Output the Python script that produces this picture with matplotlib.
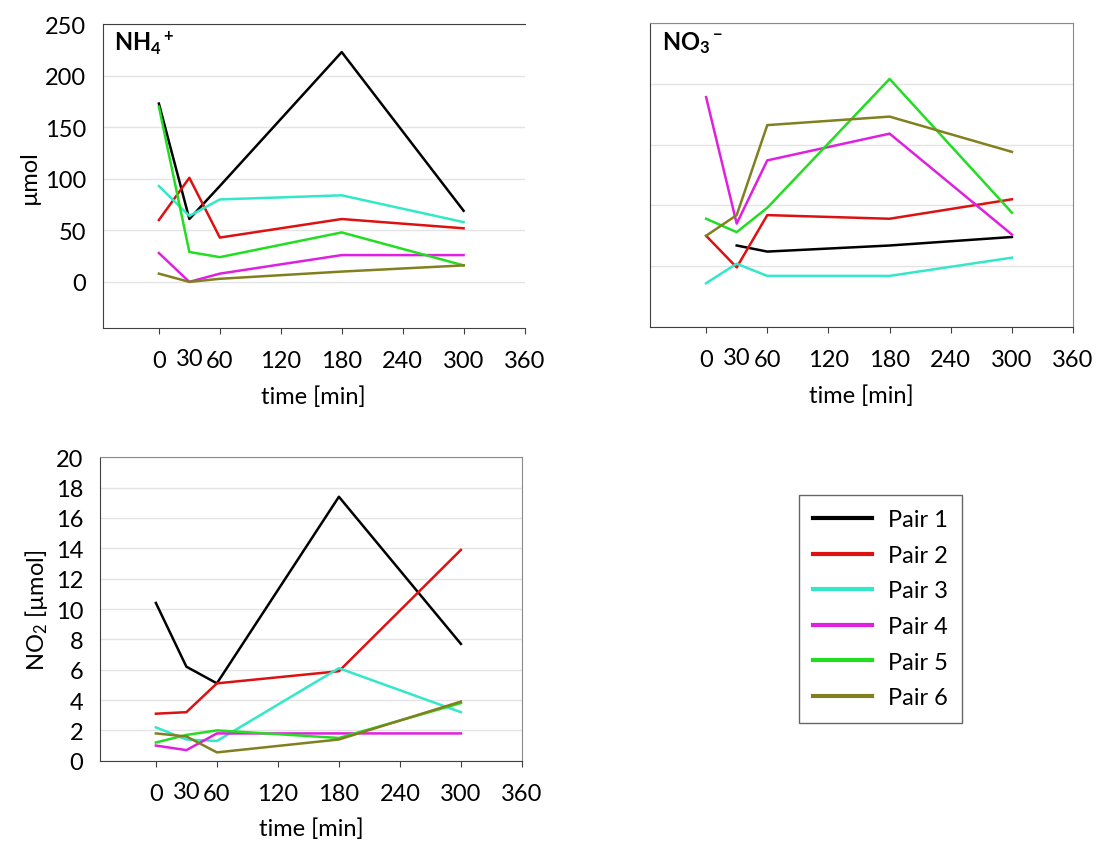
import matplotlib
matplotlib.use('Agg')
import matplotlib.pyplot as plt
import numpy as np

plt.rcParams['font.family'] = ['Lato', 'DejaVu Sans']
plt.rcParams['mathtext.fontset'] = 'custom'
plt.rcParams['mathtext.rm'] = 'Lato'
plt.rcParams['mathtext.it'] = 'Lato:italic'
plt.rcParams['mathtext.bf'] = 'Lato:bold'

time = [0, 30, 60, 180, 300]
pairs = ['Pair 1', 'Pair 2', 'Pair 3', 'Pair 4', 'Pair 5', 'Pair 6']
colors = ['#000000', '#dd1111', '#33e8c8', '#e020e0', '#22dd22', '#808020']

# NH4+ [umol]
nh4_p1 = [173, 61, 93, 223, 69]
nh4_p2 = [60, 101, 43, 61, 52]
nh4_p3 = [93, 64, 80, 84, 58]
nh4_p4 = [28, 0, 8, 26, 26]
nh4_p5 = [170, 29, 24, 48, 16]
nh4_p6 = [8, 0, 3, 10, 16]

# NO3- (no scale shown, arbitrary units)
no3_p1 = [np.nan, 67, 62, 67, 74]
no3_p2 = [75, 49, 92, 89, 105]
no3_p3 = [36, 52, 42, 42, 57]
no3_p4 = [189, 85, 137, 159, 76]
no3_p5 = [89, 78, 98, 204, 94]
no3_p6 = [75, 92, 166, 173, 144]

# NO2 [umol]
no2_p1 = [10.4, 6.2, 5.1, 17.4, 7.7]
no2_p2 = [3.1, 3.2, 5.1, 5.9, 13.9]
no2_p3 = [2.2, 1.4, 1.3, 6.1, 3.2]
no2_p4 = [1.0, 0.7, 1.8, 1.8, 1.8]
no2_p5 = [1.2, 1.7, 2.0, 1.5, 3.8]
no2_p6 = [1.8, 1.6, 0.55, 1.4, 3.9]

nh4 = [nh4_p1, nh4_p2, nh4_p3, nh4_p4, nh4_p5, nh4_p6]
no3 = [no3_p1, no3_p2, no3_p3, no3_p4, no3_p5, no3_p6]
no2 = [no2_p1, no2_p2, no2_p3, no2_p4, no2_p5, no2_p6]

fs = 17
fig = plt.figure(figsize=(10.96, 8.53), dpi=100)

ax1 = fig.add_axes([0.094, 0.614, 0.3846, 0.3564])
ax2 = fig.add_axes([0.5931, 0.6155, 0.386, 0.3564])
ax3 = fig.add_axes([0.0912, 0.107, 0.385, 0.3557])


def style_ax(ax, ylim, yticks, showlabels=True):
    ax.set_xlim(-55, 360)
    ax.set_ylim(*ylim)
    ax.set_xticks([0, 60, 120, 180, 240, 300, 360])
    ax.set_xticks([30], minor=True)
    ax.set_xticklabels(['0', '60', '120', '180', '240', '300', '360'], fontsize=fs)
    ax.set_xticklabels(['30'], minor=True, fontsize=fs)
    ax.tick_params(axis='x', which='major', length=4, direction='out', pad=12, color='#404040')
    # "30" has no tick mark and sits a touch higher than the others
    ax.tick_params(axis='x', which='minor', length=0, pad=14.5)
    ax.set_yticks(yticks)
    ax.tick_params(axis='y', length=0, pad=12, labelsize=fs)
    if not showlabels:
        ax.set_yticklabels([])
    ax.grid(axis='y', color='#e4e4e4', linewidth=1)
    ax.set_axisbelow(True)
    ax.set_xlabel('time [min]', fontsize=fs, labelpad=10)
    ax.spines['left'].set_color('#404040')
    ax.spines['bottom'].set_color('#404040')
    ax.spines['top'].set_color('#8a8a8a')
    ax.spines['right'].set_color('#8a8a8a')


for vals, c, lab in zip(nh4, colors, pairs):
    ax1.plot(time, vals, color=c, lw=1.8, label=lab)
style_ax(ax1, (-45, 250), [0, 50, 100, 150, 200, 250])
ax1.spines['top'].set_color('#404040')
ax1.spines['right'].set_visible(False)
ax1.set_ylabel('µmol', fontsize=fs, labelpad=4)
ax1.text(0.026, 0.94, r'$\mathbf{NH_4{}^+}$', transform=ax1.transAxes,
         fontsize=fs, va='center', ha='left')

for vals, c, lab in zip(no3, colors, pairs):
    ax2.plot(time, vals, color=c, lw=1.8, label=lab)
style_ax(ax2, (0, 250), [0, 50, 100, 150, 200, 250], showlabels=False)
ax2.text(0.028, 0.937, r'$\mathbf{NO_3{}^-}$', transform=ax2.transAxes,
         fontsize=fs, va='center', ha='left')

for vals, c, lab in zip(no2, colors, pairs):
    ax3.plot(time, vals, color=c, lw=1.8, label=lab)
style_ax(ax3, (0, 20), np.arange(0, 21, 2))
ax3.set_ylabel(r'NO$_2$ [µmol]', fontsize=fs, labelpad=4)

handles, labels = ax3.get_legend_handles_labels()
leg = fig.legend(handles, labels, loc='upper left', bbox_to_anchor=(0.729, 0.4185),
                 borderaxespad=0, fontsize=fs, frameon=True, fancybox=False,
                 handlelength=2.5, labelspacing=0.62, borderpad=0.6,
                 handletextpad=0.65)
leg.get_frame().set_edgecolor('#404040')
leg.get_frame().set_linewidth(1)
for h in leg.get_lines():
    h.set_linewidth(3)

fig.savefig('out.png', dpi=100)
